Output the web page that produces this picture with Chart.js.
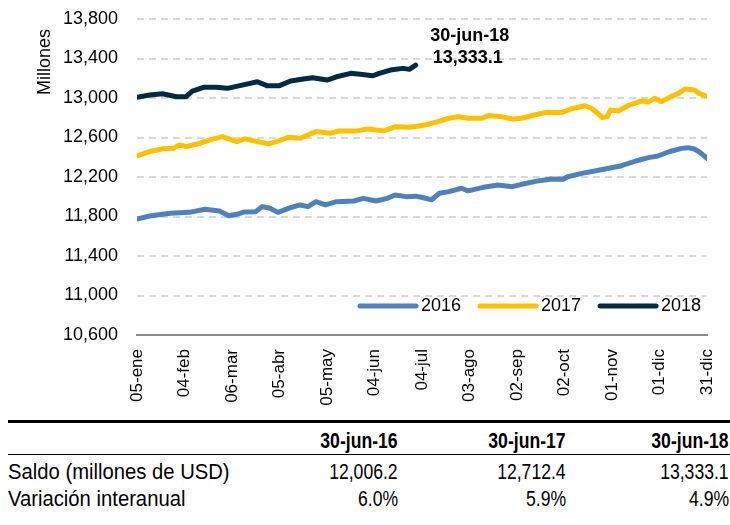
<!DOCTYPE html>
<html>
<head>
<meta charset="utf-8">
<script src="https://cdn.jsdelivr.net/npm/chart.js@4.4.0/dist/chart.umd.min.js"></script>
<style>
body { margin:0; background:#fff; font-family:'Liberation Sans',Arial,sans-serif; color:#000; }
#wrap { position:relative; width:730px; height:525px; overflow:hidden; }
#graph { position:absolute; left:0; top:0; }
.rule { position:absolute; left:8px; width:722px; background:#000; }
.cell { position:absolute; white-space:nowrap; font-size:22px; line-height:26px; }
.l { transform:scaleX(0.92); transform-origin:left center; }
.r { text-align:right; transform:scaleX(0.8); transform-origin:right center; }
.b { font-weight:bold; }
</style>
</head>
<body>
<div id="wrap">
  <canvas id="graph" width="730" height="412"></canvas>
  <div class="rule" style="top:420px;height:3px"></div>
  <div class="rule" style="top:454px;height:1px"></div>
</div>
<script>
// eje x: dias desde el 05-ene
const tickDays = [0, 30, 60, 90, 120, 150, 180, 210, 240, 270, 300, 330, 360];
const tickLabels = ['05-ene', '04-feb', '06-mar', '05-abr', '05-may', '04-jun', '04-jul', '03-ago', '02-sep', '02-oct', '01-nov', '01-dic', '31-dic'];

const days2016 = [0, 8, 21, 33, 43, 52, 58, 63, 68, 75, 79, 84, 89, 97, 103, 108, 113, 119, 126, 137, 143, 151, 158, 163, 170, 176,
  181, 186, 191, 197, 205, 209, 218, 228, 237, 243, 254, 262, 269, 272, 281, 289, 298, 306, 315, 323, 329, 336, 344, 348, 352, 355, 360];
const saldo2016 = [11775, 11805, 11832, 11842, 11873, 11856, 11808, 11822, 11846, 11849, 11900, 11883, 11842, 11889, 11917, 11900, 11950, 11917, 11950, 11957, 11984, 11957, 11984, 12018, 12001, 12006,
  11990, 11970, 12035, 12052, 12086, 12060, 12093, 12119, 12102, 12126, 12163, 12180, 12177, 12203, 12237, 12261, 12288, 12314, 12362, 12396, 12413, 12456, 12490, 12497, 12483, 12456, 12390];

const days2017 = [0, 8, 16, 23, 27, 31, 40, 46, 54, 63, 68, 76, 83, 88, 96, 103, 113, 122, 128, 139, 146, 156, 163, 171, 176,
  182, 190, 197, 203, 209, 218, 222, 230, 237, 243, 251, 258, 268, 274, 283, 287, 291, 294, 297, 299, 304, 310, 319, 323, 327, 331, 336, 342, 346, 352, 355, 359];
const saldo2017 = [12414, 12458, 12485, 12492, 12525, 12508, 12542, 12576, 12609, 12559, 12586, 12559, 12535, 12559, 12603, 12593, 12660, 12643, 12667, 12667, 12687, 12667, 12710, 12704, 12712,
  12727, 12761, 12795, 12811, 12795, 12795, 12822, 12811, 12788, 12795, 12828, 12852, 12852, 12889, 12922, 12896, 12845, 12801, 12811, 12879, 12869, 12922, 12970, 12960, 12997, 12963, 13003, 13047, 13091, 13081, 13047, 13023];

const days2018 = [0, 8, 16, 25, 31, 35, 42, 50, 57, 65, 76, 82, 90, 97, 105, 111, 120, 126, 135, 141, 149, 153, 160, 168, 172, 176];
const saldo2018 = [13007, 13030, 13043, 13013, 13013, 13070, 13108, 13108, 13098, 13125, 13165, 13125, 13125, 13172, 13192, 13205, 13182, 13215, 13250, 13240, 13225, 13250, 13283, 13300, 13290, 13333.1];

// tabla
const tableCols = ['30-jun-16', '30-jun-17', '30-jun-18'];
const saldoJun = ['12,006.2', '12,712.4', '13,333.1'];
const variacion = ['6.0%', '5.9%', '4.9%'];

const font = "'Liberation Sans',Arial,sans-serif";
Chart.defaults.font.family = font;
Chart.defaults.color = '#000';

const toPts = (d, v) => d.map((x, i) => ({ x: x, y: v[i] }));

const legendInside = {
    id: 'legendInside',
    afterDraw(chart) {
        const ctx = chart.ctx;
        let lx = 360;
        const ly = 306;
        ctx.save();
        ctx.font = '18px ' + font;
        ctx.textBaseline = 'middle';
        chart.data.datasets.forEach(ds => {
            ctx.strokeStyle = ds.borderColor;
            ctx.lineWidth = 5;
            ctx.lineCap = 'round';
            ctx.beginPath();
            ctx.moveTo(lx, ly);
            ctx.lineTo(lx + 56, ly);
            ctx.stroke();
            ctx.fillStyle = '#000';
            ctx.fillText(ds.label, lx + 61, ly);
            lx += 61 + ctx.measureText(ds.label).width + 19;
        });
        ctx.restore();
    }
};

const lastNote = {
    id: 'lastNote',
    afterDraw(chart) {
        const ctx = chart.ctx;
        const px = chart.scales.x.getPixelForValue(days2018[days2018.length - 1]);
        const py = chart.scales.y.getPixelForValue(saldo2018[saldo2018.length - 1]);
        ctx.save();
        ctx.font = 'bold 18px ' + font;
        ctx.textAlign = 'center';
        ctx.textBaseline = 'middle';
        ctx.fillStyle = '#000';
        ctx.fillText(tableCols[2], px + 54, py - 29);
        ctx.fillText(saldoJun[2], px + 52, py - 7);
        ctx.restore();
    }
};

const graph = document.getElementById('graph').getContext('2d');

new Chart(graph, {
    type: 'line',
    data: {
        datasets: [
            { label: '2016', data: toPts(days2016, saldo2016), borderColor: '#4F81BD' },
            { label: '2017', data: toPts(days2017, saldo2017), borderColor: '#FFC000' },
            { label: '2018', data: toPts(days2018, saldo2018), borderColor: '#002B45' }
        ]
    },
    options: {
        responsive: false,
        animation: false,
        layout: { padding: { top: 19, right: 23, left: 0, bottom: 0 } },
        plugins: { legend: { display: false }, tooltip: { enabled: false } },
        elements: {
            point: { radius: 0 },
            line: { tension: 0, borderWidth: 5, borderCapStyle: 'round', borderJoinStyle: 'round', fill: false }
        },
        scales: {
            x: {
                type: 'linear', min: 0, max: 360,
                afterBuildTicks(axis) { axis.ticks = tickDays.map(v => ({ value: v })); },
                ticks: { autoSkip: false, maxRotation: 90, minRotation: 90, padding: 14, font: { size: 17 },
                    callback: (v, i) => tickLabels[i] },
                grid: { display: false, drawTicks: false },
                border: { display: true, color: '#8c8c8c', width: 2 },
                afterFit(s) { s.height = 412 - 335; s.paddingLeft = 0; s.paddingRight = 0; }
            },
            y: {
                min: 10600, max: 13800,
                ticks: { stepSize: 400, padding: 19, font: { size: 18 }, callback: v => v.toLocaleString('en-US') },
                grid: { color: c => c.tick && c.tick.value === 10600 ? 'rgba(0,0,0,0)' : '#d9d9d9', lineWidth: 2, drawTicks: false },
                border: { display: false, dash: [7, 5] },
                // espacios al final para bajar el titulo como en el original
                title: { display: true, text: 'Millones\u00a0\u00a0', align: 'end', font: { size: 18 }, padding: { top: 34, bottom: 0 } },
                afterFit(s) { s.width = 137; s.paddingTop = 0; s.paddingBottom = 0; }
            }
        }
    },
    plugins: [legendInside, lastNote]
});

// tabla bajo el grafico
const wrap = document.getElementById('wrap');
const colRight = [398, 566, 729];
const rows = [
    { top: 428, label: '', vals: tableCols, bold: true },
    { top: 459, label: 'Saldo (millones de USD)', vals: saldoJun },
    { top: 486, label: 'Variación interanual', vals: variacion }
];
rows.forEach(r => {
    if (r.label) {
        wrap.insertAdjacentHTML('beforeend', `<div class="cell l" style="left:8px;top:${r.top}px">${r.label}</div>`);
    }
    r.vals.forEach((v, i) => {
        wrap.insertAdjacentHTML('beforeend',
            `<div class="cell r ${r.bold ? 'b' : ''}" style="right:${730 - colRight[i]}px;top:${r.top}px">${v}</div>`);
    });
});
</script>
</body>
</html>
